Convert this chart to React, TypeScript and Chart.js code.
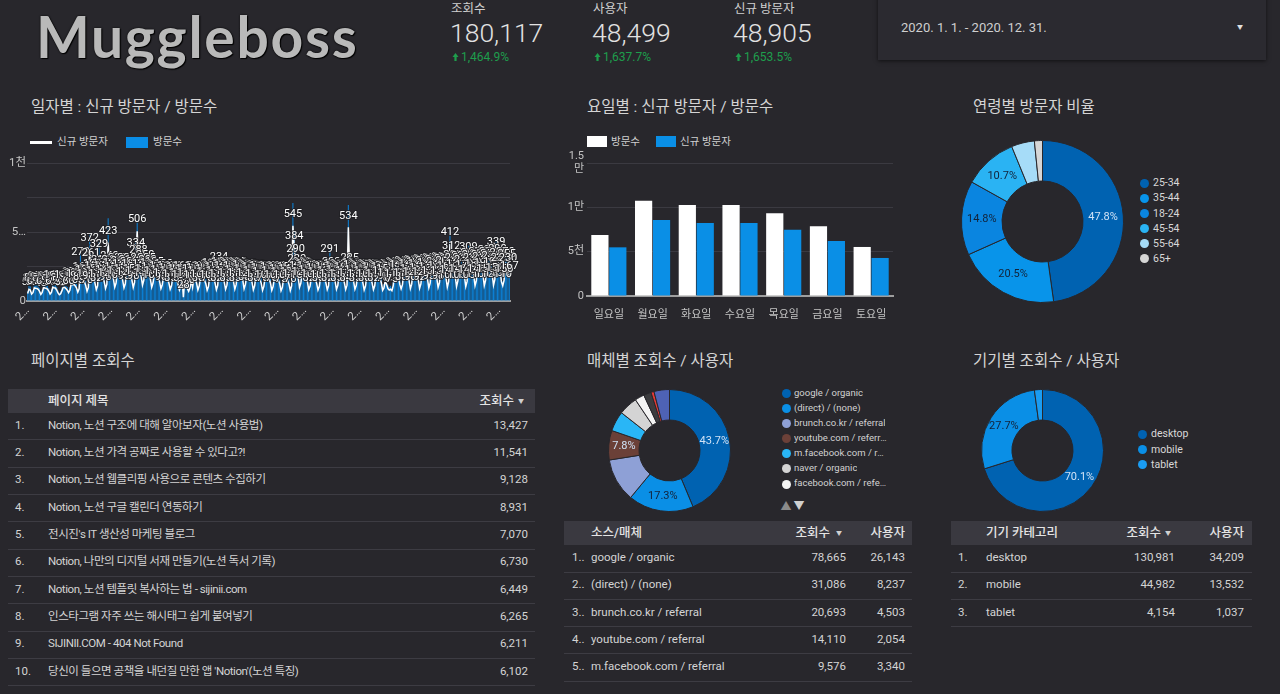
import React, { useEffect, useRef } from 'react';
import { Chart, registerables } from 'chart.js';
Chart.register(...registerables);

const FONT = "Roboto, 'Noto Sans CJK KR', 'Noto Sans', sans-serif";
const BG = '#28272c';
const GRID = '#3b3a41';
const TICK = '#c4c4c4';
Chart.defaults.font.family = FONT;

// ---------- scorecards ----------
const scoreLabels = ['조회수', '사용자', '신규 방문자'];
const scoreValues = ['180,117', '48,499', '48,905'];
const scoreChanges = ['1,464.9%', '1,637.7%', '1,653.5%'];
const dateRange = '2020. 1. 1. - 2020. 12. 31.';

// ---------- daily (2020-01-01 .. 2020-12-31) ----------
const dailyNewVisitors = [
  55, 85, 80, 50, 60, 95, 92, 90, 84, 70, 48, 62, 98, 94, 92, 86, 72, 50, 63, 100, 96, 94, 80, 58, 45, 52, 75, 102, 98, 90, 78,
  60, 78, 125, 118, 120, 110, 95, 65, 88, 272, 160, 150, 138, 112, 70, 98, 372, 261, 180, 165, 130, 82, 110, 329, 210, 188, 170, 140, 90,
  120, 423, 240, 210, 190, 160, 100, 130, 230, 215, 205, 185, 150, 95, 125, 225, 210, 200, 180, 150, 98, 135, 334, 506, 288, 230, 180, 115, 150, 250, 225,
  209, 190, 160, 100, 130, 195, 185, 178, 165, 140, 90, 118, 180, 172, 168, 155, 130, 85, 110, 170, 165, 160, 148, 120, 80, 105, 165, 28, 150, 118,
  90, 70, 95, 150, 100, 165, 155, 130, 80, 108, 172, 165, 160, 150, 125, 78, 105, 183, 192, 170, 158, 130, 82, 112, 234, 197, 180, 165, 135, 85, 115,
  200, 190, 182, 170, 140, 85, 118, 195, 188, 180, 175, 150, 88, 120, 185, 178, 170, 160, 135, 80, 110, 178, 170, 165, 155, 128, 78, 106, 172, 168,
  165, 158, 130, 78, 105, 170, 165, 160, 150, 125, 75, 100, 168, 162, 158, 148, 122, 76, 110, 545, 384, 290, 220, 170, 100, 128, 200, 190, 180, 168, 138,
  82, 108, 175, 170, 165, 155, 128, 80, 105, 178, 172, 168, 158, 130, 82, 110, 291, 200, 185, 170, 140, 85, 112, 185, 178, 172, 160, 132, 84, 115, 534,
  225, 190, 175, 142, 85, 112, 182, 176, 170, 160, 132, 80, 108, 180, 174, 168, 158, 130, 82, 110, 185, 178, 170, 160, 132, 78, 95, 150, 120, 90,
  80, 85, 75, 110, 195, 190, 185, 175, 120, 88, 118, 205, 198, 192, 180, 148, 90, 122, 214, 205, 198, 186, 152, 92, 125, 220, 212, 205, 192, 158, 95,
  130, 228, 220, 212, 200, 165, 98, 132, 235, 226, 218, 205, 168, 100, 140, 412, 312, 250, 225, 180, 105, 145, 245, 238, 230, 215, 178, 105, 142, 309,
  260, 245, 230, 185, 110, 148, 270, 258, 248, 232, 190, 112, 150, 285, 270, 255, 240, 195, 115, 155, 339, 290, 265, 225, 140, 110, 150, 270, 255, 230, 167,
];
const dailyVisits = [
  70, 110, 105, 65, 80, 125, 120, 118, 110, 92, 62, 82, 128, 122, 120, 112, 95, 66, 84, 130, 125, 122, 105, 76, 60, 70, 98, 132, 128, 118, 102,
  80, 102, 162, 154, 156, 143, 124, 85, 115, 350, 210, 196, 180, 146, 92, 128, 480, 340, 234, 215, 170, 108, 144, 430, 275, 245, 222, 182, 118,
  156, 600, 312, 273, 247, 208, 130, 170, 300, 280, 267, 241, 195, 124, 163, 293, 273, 260, 234, 195, 128, 176, 435, 585, 375, 300, 234, 150, 195, 325, 293,
  272, 247, 208, 130, 169, 254, 240, 231, 214, 182, 117, 153, 234, 224, 218, 202, 169, 110, 143, 221, 214, 208, 192, 156, 104, 136, 214, 60, 195, 153,
  117, 91, 124, 195, 130, 214, 201, 169, 104, 140, 224, 214, 208, 195, 162, 101, 136, 238, 250, 221, 205, 169, 107, 146, 304, 256, 234, 214, 175, 110, 150,
  260, 247, 237, 221, 182, 110, 153, 254, 244, 234, 228, 195, 114, 156, 240, 231, 221, 208, 175, 104, 143, 231, 221, 214, 201, 166, 101, 138, 224, 218,
  214, 205, 169, 101, 136, 221, 214, 208, 195, 162, 98, 130, 218, 211, 205, 192, 159, 99, 143, 710, 500, 377, 286, 221, 130, 166, 260, 247, 234, 218, 179,
  107, 140, 228, 221, 214, 202, 166, 104, 136, 231, 224, 218, 205, 169, 107, 143, 378, 260, 240, 221, 182, 110, 146, 240, 231, 224, 208, 172, 109, 150, 695,
  292, 247, 228, 185, 110, 146, 237, 229, 221, 208, 172, 104, 140, 234, 226, 218, 205, 169, 107, 143, 240, 231, 221, 208, 172, 101, 124, 195, 156, 117,
  104, 110, 98, 143, 254, 247, 240, 228, 156, 114, 153, 266, 257, 250, 234, 192, 117, 159, 278, 266, 257, 242, 198, 120, 162, 286, 276, 266, 250, 205, 124,
  169, 296, 286, 276, 260, 214, 127, 172, 305, 294, 283, 266, 218, 130, 182, 535, 405, 325, 292, 234, 136, 188, 318, 309, 299, 280, 231, 136, 185, 400,
  338, 318, 299, 240, 143, 192, 351, 335, 322, 302, 247, 146, 195, 370, 351, 331, 312, 253, 150, 201, 440, 377, 344, 292, 182, 143, 195, 351, 331, 299, 217,
];
const monthLengths = [31, 29, 31, 30, 31, 30, 31, 31, 30, 31, 30, 31];
const dailyLabels: string[] = [];
monthLengths.forEach((n, m) => {
  for (let d = 1; d <= n; d++) dailyLabels.push(`2020. ${m + 1}. ${d}.`);
});
const dailyYTicks: Record<number, string | string[]> = { 0: '0', 500: '5…', 1000: '1천' };

// ---------- weekday ----------
const weekdayLabels = ['일요일', '월요일', '화요일', '수요일', '목요일', '금요일', '토요일'];
const weekdayVisits = [6880, 10750, 10260, 10260, 9330, 7860, 5530];
const weekdayNewVisitors = [5490, 8570, 8230, 8230, 7480, 6200, 4290];
const weekdayYTicks: Record<number, string | string[]> = { 0: '0', 5000: '5천', 10000: '1만', 15000: ['1.5', '만'] };

// ---------- age ----------
const ageLabels = ['25-34', '35-44', '18-24', '45-54', '55-64', '65+'];
const agePercent = [47.8, 20.5, 14.8, 10.7, 4.6, 1.6];
const ageColors = ['#0062b1', '#0894ea', '#0a85e0', '#2ab3f3', '#a6dcf8', '#d6d6d6'];

// ---------- media ----------
const mediaLabels = ['google / organic', '(direct) / (none)', 'brunch.co.kr / referral', 'youtube.com / referral', 'm.facebook.com / referral', 'naver / organic', 'facebook.com / referral', '기타 1', '기타 2', '기타 3'];
const mediaPercent = [43.7, 17.3, 11.5, 7.8, 5.3, 5.0, 2.5, 2.0, 0.8, 4.1];
const mediaColors = ['#0062b1', '#0a8fe6', '#8ea0d6', '#6b4038', '#29b6f6', '#d4d4d4', '#f4f4f4', '#3b3b3e', '#e53935', '#4e62b5'];
const mediaLegendCount = 7;

// ---------- device ----------
const deviceLabels = ['desktop', 'mobile', 'tablet'];
const deviceViews = [130981, 44982, 4154];
const deviceUsers = [34209, 13532, 1037];
const deviceColors = ['#0062b1', '#0a8fe6', '#1a9cf2'];

// ---------- tables ----------
const pageTitles = [
  'Notion, 노션 구조에 대해 알아보자(노션 사용법)',
  'Notion, 노션 가격 공짜로 사용할 수 있다고?!',
  'Notion, 노션 웹클리핑 사용으로 콘텐츠 수집하기',
  'Notion, 노션 구글 캘린더 연동하기',
  "전시진's IT 생산성 마케팅 블로그",
  'Notion, 나만의 디지털 서재 만들기(노션 독서 기록)',
  'Notion, 노션 템플릿 복사하는 법 - sijinii.com',
  '인스타그램 자주 쓰는 해시태그 쉽게 붙여넣기',
  'SIJINII.COM - 404 Not Found',
  "당신이 들으면 공책을 내던질 만한 앱 'Notion'(노션 특징)",
];
const pageViews = [13427, 11541, 9128, 8931, 7070, 6730, 6449, 6265, 6211, 6102];
const sourceNames = ['google / organic', '(direct) / (none)', 'brunch.co.kr / referral', 'youtube.com / referral', 'm.facebook.com / referral'];
const sourceViews = [78665, 31086, 20693, 14110, 9576];
const sourceUsers = [26143, 8237, 4503, 2054, 3340];

const fmt = (n: number) => n.toLocaleString('en-US');

// ---------- plugins ----------
const lineLabelPlugin = {
  id: 'lineLabels',
  afterDatasetsDraw(chart: any) {
    const meta = chart.getDatasetMeta(0);
    const ds = chart.data.datasets[0];
    const ctx = chart.ctx;
    ctx.save();
    ctx.font = `11px ${FONT}`;
    ctx.textAlign = 'center';
    ctx.textBaseline = 'bottom';
    ctx.lineJoin = 'round';
    ctx.lineWidth = 2;
    ctx.strokeStyle = 'rgba(30,30,34,0.8)';
    ctx.fillStyle = '#ffffff';
    meta.data.forEach((pt: any, i: number) => {
      const t = String(ds.data[i]);
      ctx.strokeText(t, pt.x, pt.y - 6);
      ctx.fillText(t, pt.x, pt.y - 6);
    });
    ctx.restore();
  },
};

function lum(hex: string) {
  const v = [1, 3, 5].map((i) => {
    const c = parseInt(hex.slice(i, i + 2), 16) / 255;
    return c <= 0.03928 ? c / 12.92 : Math.pow((c + 0.055) / 1.055, 2.4);
  });
  return 0.2126 * v[0] + 0.7152 * v[1] + 0.0722 * v[2];
}

const arcLabelPlugin = {
  id: 'arcLabels',
  afterDatasetsDraw(chart: any, _args: any, opts: any) {
    const ds = chart.data.datasets[0];
    const data: number[] = ds.data;
    const total = data.reduce((a, b) => a + b, 0);
    const meta = chart.getDatasetMeta(0);
    const ctx = chart.ctx;
    ctx.save();
    ctx.font = `11px ${FONT}`;
    ctx.textAlign = 'center';
    ctx.textBaseline = 'middle';
    meta.data.forEach((arc: any, i: number) => {
      const pct = (data[i] / total) * 100;
      if (pct < (opts.min ?? 7) || (opts.hide || []).includes(i)) return;
      const p = arc.getProps(['startAngle', 'endAngle', 'innerRadius', 'outerRadius', 'x', 'y'], true);
      const a = (p.startAngle + p.endAngle) / 2;
      const r = (p.innerRadius + p.outerRadius) / 2;
      ctx.fillStyle = lum(ds.backgroundColor[i]) < 0.18 ? '#cfe2f6' : '#13233a';
      ctx.fillText(pct.toFixed(1) + '%', p.x + Math.cos(a) * r, p.y + Math.sin(a) * r);
    });
    ctx.restore();
  },
};

// ---------- configs ----------
const dailyConfig = (): any => ({
  type: 'bar',
  data: {
    labels: dailyLabels,
    datasets: [
      { type: 'line', label: '신규 방문자', data: dailyNewVisitors, borderColor: '#ffffff', borderWidth: 1.5, pointRadius: 0, order: 0 },
      { type: 'bar', label: '방문수', data: dailyVisits, backgroundColor: '#0b7fd4', barPercentage: 0.8, categoryPercentage: 1, order: 1 },
    ],
  },
  options: {
    animation: false,
    responsive: false,
    devicePixelRatio: 1,
    layout: { padding: { left: 0, right: 10, top: 13, bottom: 0 } },
    plugins: { legend: { display: false }, tooltip: { enabled: false } },
    scales: {
      x: {
        grid: { display: false },
        border: { display: true, color: '#9e9e9e', width: 2 },
        ticks: { autoSkip: true, maxTicksLimit: 18, maxRotation: 45, minRotation: 45, color: '#d0d0d0', font: { size: 11.5 }, padding: -5, callback: () => '2…' },
        afterFit: (s: any) => { s.height = 29; },
      },
      y: {
        min: 0,
        max: 1000,
        ticks: { stepSize: 250, color: TICK, font: { size: 11.5 }, padding: 1, callback: (v: number) => dailyYTicks[v] ?? '' },
        grid: { color: GRID, drawTicks: false },
        border: { display: false },
        afterFit: (s: any) => { s.width = 27; },
      },
    },
  },
  plugins: [lineLabelPlugin],
});

const weekdayConfig = (): any => ({
  type: 'bar',
  data: {
    labels: weekdayLabels,
    datasets: [
      { label: '방문수', data: weekdayVisits, backgroundColor: '#ffffff', barPercentage: 0.96, categoryPercentage: 0.82 },
      { label: '신규 방문자', data: weekdayNewVisitors, backgroundColor: '#0a8fe6', barPercentage: 0.96, categoryPercentage: 0.82 },
    ],
  },
  options: {
    animation: false,
    responsive: false,
    devicePixelRatio: 1,
    layout: { padding: { left: 0, right: 7, top: 18, bottom: 0 } },
    plugins: { legend: { display: false }, tooltip: { enabled: false } },
    scales: {
      x: {
        grid: { display: false },
        border: { display: true, color: '#9e9e9e', width: 2 },
        ticks: { color: TICK, font: { size: 11 }, padding: 5 },
        afterFit: (s: any) => { s.height = 29; },
      },
      y: {
        min: 0,
        max: 15000,
        ticks: { stepSize: 2500, color: TICK, font: { size: 11 }, padding: 3, callback: (v: number) => weekdayYTicks[v] ?? '' },
        grid: { color: GRID, drawTicks: false },
        border: { display: false },
        afterFit: (s: any) => { s.width = 27; },
      },
    },
  },
});

const donutConfig = (labels: string[], data: number[], colors: string[], hide: number[]): any => () => ({
  type: 'doughnut',
  data: { labels, datasets: [{ data, backgroundColor: colors, borderColor: BG, borderWidth: 1 }] },
  options: {
    animation: false,
    responsive: false,
    devicePixelRatio: 1,
    cutout: '50%',
    layout: { padding: 0 },
    plugins: { legend: { display: false }, tooltip: { enabled: false }, arcLabels: { min: 7, hide } },
  },
  plugins: [arcLabelPlugin],
});

// ---------- components ----------
function ChartBox({ left, top, width, height, config }: any) {
  const ref = useRef<HTMLCanvasElement>(null);
  useEffect(() => {
    const c = new Chart(ref.current as HTMLCanvasElement, config());
    return () => c.destroy();
  }, []);
  return <canvas ref={ref} width={width} height={height} style={{ position: 'absolute', left, top, width, height }} />;
}

function Txt({ x, y, s = 12, c = '#d2d2d2', w = 400, a = 'left', ls, f, children, mw }: any) {
  const tr = a === 'right' ? 'translate(-100%,-50%)' : a === 'center' ? 'translate(-50%,-50%)' : 'translateY(-50%)';
  return (
    <div
      style={{
        position: 'absolute', left: x, top: y, fontSize: s, color: c, fontWeight: w, lineHeight: 1, whiteSpace: 'nowrap',
        transform: tr, letterSpacing: ls, fontFamily: f || FONT, maxWidth: mw, overflow: mw ? 'hidden' : undefined,
        textOverflow: mw ? 'ellipsis' : undefined, paddingBottom: mw ? 2 : undefined,
      }}
    >
      {children}
    </div>
  );
}

function Rect({ x, y, w, h, c, style }: any) {
  return <div style={{ position: 'absolute', left: x, top: y, width: w, height: h, background: c, ...style }} />;
}

function Dot({ x, y, c, r = 5 }: any) {
  return <div style={{ position: 'absolute', left: x - r, top: y - r, width: r * 2, height: r * 2, borderRadius: '50%', background: c }} />;
}

function UpArrow({ x, y }: any) {
  return (
    <svg style={{ position: 'absolute', left: x, top: y - 5 }} width="7" height="10" viewBox="0 0 7 10">
      <path d="M3.5 1 L6.5 5 L4.6 5 L4.6 9 L2.4 9 L2.4 5 L0.5 5 Z" fill="#1e9e4c" />
    </svg>
  );
}

const ROW_LINE = '#3d3c43';
const HEAD_BG = '#3a3940';

export default function App() {
  useEffect(() => {
    document.body.style.margin = '0';
    document.body.style.background = BG;
  }, []);

  const scoreX = [451, 593, 734];
  const pageRowY = (i: number) => 425.5 + i * 27.35;
  const srcRowY = (i: number) => 558 + i * 27.3;

  return (
    <div style={{ position: 'absolute', left: 0, top: 0, width: 1280, height: 694, background: BG, overflow: 'hidden', fontFamily: FONT }}>
      {/* header */}
      <Txt x={36} y={36} s={57} c="#b9b9b9" w={700} f="Lato, 'Noto Sans', sans-serif" ls={1.7}>
        <span style={{ textShadow: '0 0 2px #000, 1px 1px 1px #000' }}>Muggleboss</span>
      </Txt>
      {scoreLabels.map((l, i) => (
        <React.Fragment key={l}>
          <Txt x={scoreX[i]} y={9} s={12.5} c="#d0d0d0">{l}</Txt>
          <Txt x={scoreX[i] - 1} y={33} s={26.5} c="#e2e2e2" w={300}>{scoreValues[i]}</Txt>
          <UpArrow x={scoreX[i] + 1} y={57} />
          <Txt x={scoreX[i] + 10} y={57} s={12} c="#1e9e4c">{scoreChanges[i]}</Txt>
        </React.Fragment>
      ))}
      <Rect x={878} y={-4} w={388} h={64} c="#2b2a30" style={{ boxShadow: '0 1px 4px rgba(0,0,0,0.6)' }} />
      <Txt x={901} y={27} s={13} c="#cfcfcf">{dateRange}</Txt>
      <Txt x={1240} y={27} s={6} c="#e0e0e0" a="center">▼</Txt>

      {/* section titles */}
      <Txt x={31} y={107.5} s={15.5} c="#d4d4d4">일자별 : 신규 방문자 / 방문수</Txt>
      <Txt x={587} y={107.5} s={15.5} c="#d4d4d4">요일별 : 신규 방문자 / 방문수</Txt>
      <Txt x={973} y={107.5} s={15.5} c="#d4d4d4">연령별 방문자 비율</Txt>
      <Txt x={31} y={361.5} s={15.5} c="#d4d4d4">페이지별 조회수</Txt>
      <Txt x={587} y={361.5} s={15.5} c="#d4d4d4">매체별 조회수 / 사용자</Txt>
      <Txt x={973} y={361.5} s={15.5} c="#d4d4d4">기기별 조회수 / 사용자</Txt>

      {/* daily chart */}
      <Rect x={30} y={141} w={22} h={2.5} c="#ffffff" />
      <Txt x={57} y={142} s={10.5} c="#d0d0d0">신규 방문자</Txt>
      <Rect x={126} y={137} w={22} h={11} c="#0a8de6" />
      <Txt x={153} y={142} s={10.5} c="#d0d0d0">방문수</Txt>
      <ChartBox left={0} top={150} width={520} height={180} config={dailyConfig} />

      {/* weekday chart */}
      <Rect x={587} y={136} w={20} h={11} c="#ffffff" />
      <Txt x={611} y={141.5} s={10.5} c="#d0d0d0">방문수</Txt>
      <Rect x={656} y={136} w={20} h={11} c="#0a8fe6" />
      <Txt x={680} y={141.5} s={10.5} c="#d0d0d0">신규 방문자</Txt>
      <ChartBox left={560} top={145} width={340} height={180} config={weekdayConfig} />

      {/* age donut */}
      <ChartBox left={961} top={140} width={163} height={163} config={donutConfig(ageLabels, agePercent, ageColors, [])} />
      {ageLabels.map((l, i) => (
        <React.Fragment key={l}>
          <Dot x={1144} y={183.3 + i * 15.1} c={ageColors[i]} r={4.5} />
          <Txt x={1153} y={183.3 + i * 15.1} s={10.5} c="#d8d8d8">{l}</Txt>
        </React.Fragment>
      ))}

      {/* media donut */}
      <ChartBox left={608} top={389} width={123} height={123} config={donutConfig(mediaLabels, mediaPercent, mediaColors, [2])} />
      {mediaLabels.slice(0, mediaLegendCount).map((l, i) => (
        <React.Fragment key={l}>
          <Dot x={786} y={393.7 + i * 15.05} c={mediaColors[i]} r={4.5} />
          <Txt x={794} y={393.7 + i * 15.05} s={9.5} c="#d2d2d2" mw={93}>{l}</Txt>
        </React.Fragment>
      ))}
      <Txt x={786} y={506} s={11} c="#8a8a8a" a="center">▲</Txt>
      <Txt x={799} y={506} s={11} c="#cfcfcf" a="center">▼</Txt>

      {/* device donut */}
      <ChartBox left={981} top={389} width={123} height={123} config={donutConfig(deviceLabels, deviceUsers, deviceColors, [])} />
      {deviceLabels.map((l, i) => (
        <React.Fragment key={l}>
          <Dot x={1142} y={434.3 + i * 15.3} c={deviceColors[i]} r={4.5} />
          <Txt x={1151} y={434.3 + i * 15.3} s={10.5} c="#d8d8d8">{l}</Txt>
        </React.Fragment>
      ))}

      {/* page table */}
      <Rect x={8} y={389} w={527} h={24} c={HEAD_BG} />
      <Txt x={48} y={401} s={12.5} c="#e4e4e4" w={500}>페이지 제목</Txt>
      <Txt x={514} y={401} s={12.5} c="#e4e4e4" w={500} a="right">조회수</Txt>
      <Txt x={521} y={401} s={6} c="#d0d0d0" a="center">▼</Txt>
      {pageTitles.map((t, i) => (
        <React.Fragment key={i}>
          <Txt x={15} y={pageRowY(i)} s={11.5} c="#d4d4d4">{i + 1}.</Txt>
          <Txt x={48} y={pageRowY(i)} s={11.5} c="#d4d4d4" ls={-0.45}>{t}</Txt>
          <Txt x={528} y={pageRowY(i)} s={11.5} c="#d4d4d4" a="right">{fmt(pageViews[i])}</Txt>
          <Rect x={8} y={Math.round(pageRowY(i) + 13.7)} w={527} h={1} c={ROW_LINE} />
        </React.Fragment>
      ))}

      {/* source table */}
      <Rect x={564} y={521} w={348} h={24} c={HEAD_BG} />
      <Txt x={591} y={533} s={12.5} c="#e4e4e4" w={500}>소스/매체</Txt>
      <Txt x={830} y={533} s={12.5} c="#e4e4e4" w={500} a="right">조회수</Txt>
      <Txt x={839} y={533} s={6} c="#d0d0d0" a="center">▼</Txt>
      <Txt x={905} y={533} s={12.5} c="#e4e4e4" w={500} a="right">사용자</Txt>
      {sourceNames.map((t, i) => (
        <React.Fragment key={t}>
          <Txt x={572} y={srcRowY(i)} s={11.5} c="#d4d4d4">{i + 1}..</Txt>
          <Txt x={591} y={srcRowY(i)} s={11.5} c="#d4d4d4">{t}</Txt>
          <Txt x={846} y={srcRowY(i)} s={11.5} c="#d4d4d4" a="right">{fmt(sourceViews[i])}</Txt>
          <Txt x={905} y={srcRowY(i)} s={11.5} c="#d4d4d4" a="right">{fmt(sourceUsers[i])}</Txt>
          <Rect x={564} y={Math.round(srcRowY(i) + 13.5)} w={348} h={1} c={ROW_LINE} />
        </React.Fragment>
      ))}

      {/* device table */}
      <Rect x={951} y={521} w={301} h={24} c={HEAD_BG} />
      <Txt x={986} y={533} s={12.5} c="#e4e4e4" w={500}>기기 카테고리</Txt>
      <Txt x={1161} y={533} s={12.5} c="#e4e4e4" w={500} a="right">조회수</Txt>
      <Txt x={1168} y={533} s={6} c="#d0d0d0" a="center">▼</Txt>
      <Txt x={1244} y={533} s={12.5} c="#e4e4e4" w={500} a="right">사용자</Txt>
      {deviceLabels.map((t, i) => (
        <React.Fragment key={t}>
          <Txt x={958} y={srcRowY(i)} s={11.5} c="#d4d4d4">{i + 1}.</Txt>
          <Txt x={986} y={srcRowY(i)} s={11.5} c="#d4d4d4">{t}</Txt>
          <Txt x={1175} y={srcRowY(i)} s={11.5} c="#d4d4d4" a="right">{fmt(deviceViews[i])}</Txt>
          <Txt x={1244} y={srcRowY(i)} s={11.5} c="#d4d4d4" a="right">{fmt(deviceUsers[i])}</Txt>
          <Rect x={951} y={Math.round(srcRowY(i) + 13.5)} w={301} h={1} c={ROW_LINE} />
        </React.Fragment>
      ))}
    </div>
  );
}
